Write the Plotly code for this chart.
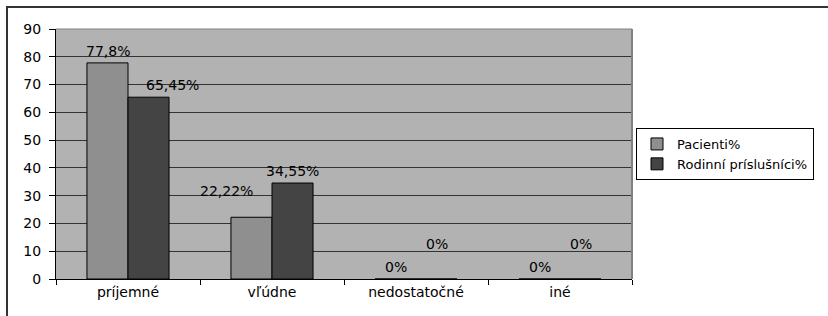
import plotly.graph_objects as go

categories = ["príjemné", "vľúdne", "nedostatočné", "iné"]
pacienti = [77.8, 22.22, 0, 0]
rodinni = [65.45, 34.55, 0, 0]
pacienti_labels = ["77,8%", "22,22%", "0%", "0%"]
rodinni_labels = ["65,45%", "34,55%", "0%", "0%"]
y_ticks = [0, 10, 20, 30, 40, 50, 60, 70, 80, 90]

# label offsets (px) as in the original chart
pac_shift = [(0, 12), (-25, 26), (0, 12), (0, 12)]
rod_shift = [(24, 12), (0, 12), (0, 35), (0, 35)]

FONT = "DejaVu Sans, Liberation Sans, Arial, sans-serif"
FS = 14

fig = go.Figure()
fig.add_trace(go.Bar(name="Pacienti%", x=categories, y=pacienti,
                     marker=dict(color="#8f8f8f", line=dict(color="#000000", width=1))))
fig.add_trace(go.Bar(name="Rodinní príslušníci%", x=categories, y=rodinni,
                     marker=dict(color="#444444", line=dict(color="#000000", width=1))))

half = 20.5
for i, c in enumerate(categories):
    fig.add_annotation(x=c, y=pacienti[i], text=pacienti_labels[i], showarrow=False,
                       xref="x", yref="y", xshift=-half + pac_shift[i][0], yshift=pac_shift[i][1],
                       font=dict(family=FONT, size=FS, color="#000000"))
    fig.add_annotation(x=c, y=rodinni[i], text=rodinni_labels[i], showarrow=False,
                       xref="x", yref="y", xshift=half + rod_shift[i][0], yshift=rod_shift[i][1],
                       font=dict(family=FONT, size=FS, color="#000000"))

# outer frame (top and left visible)
fig.add_shape(type="rect", xref="paper", yref="paper",
              x0=-49 / 576, x1=1.5, y0=-0.5, y1=(279 - 7) / 250,
              line=dict(color="#333333", width=2), layer="below")

fig.update_layout(
    width=828, height=316,
    margin=dict(l=56, r=196, t=29, b=37),
    paper_bgcolor="#ffffff",
    plot_bgcolor="#b2b2b2",
    barmode="group",
    bargap=0.43,
    bargroupgap=0,
    font=dict(family=FONT, size=FS, color="#000000"),
    showlegend=True,
    legend=dict(x=(636 - 56) / 576, y=0.5, xanchor="left", yanchor="middle",
                bgcolor="#ffffff", bordercolor="#000000", borderwidth=1,
                font=dict(family=FONT, size=13, color="#000000"),
                itemwidth=30),
)
fig.update_xaxes(showgrid=False, ticks="outside", tickson="boundaries", ticklen=5,
                 tickcolor="#000000", showline=True, linecolor="#000000", linewidth=1,
                 mirror=False, tickfont=dict(family=FONT, size=FS), fixedrange=True)
fig.update_yaxes(range=[0, 90], tickvals=y_ticks, showgrid=True, gridcolor="#333333",
                 gridwidth=1, ticks="outside", ticklen=6, tickcolor="#000000",
                 showline=True, linecolor="#000000", linewidth=1, zeroline=False,
                 ticklabelstandoff=5,
                 tickfont=dict(family=FONT, size=FS), fixedrange=True)
# gray right/top border of plot area
fig.add_shape(type="line", xref="paper", yref="paper", x0=1, x1=1, y0=0, y1=1,
              line=dict(color="#808080", width=2))
fig.add_shape(type="line", xref="paper", yref="paper", x0=0, x1=1, y0=1, y1=1,
              line=dict(color="#808080", width=1))

fig.write_html("out.html", config={"displayModeBar": False},
               post_script="document.body.style.margin='0';document.body.style.padding='0';")
